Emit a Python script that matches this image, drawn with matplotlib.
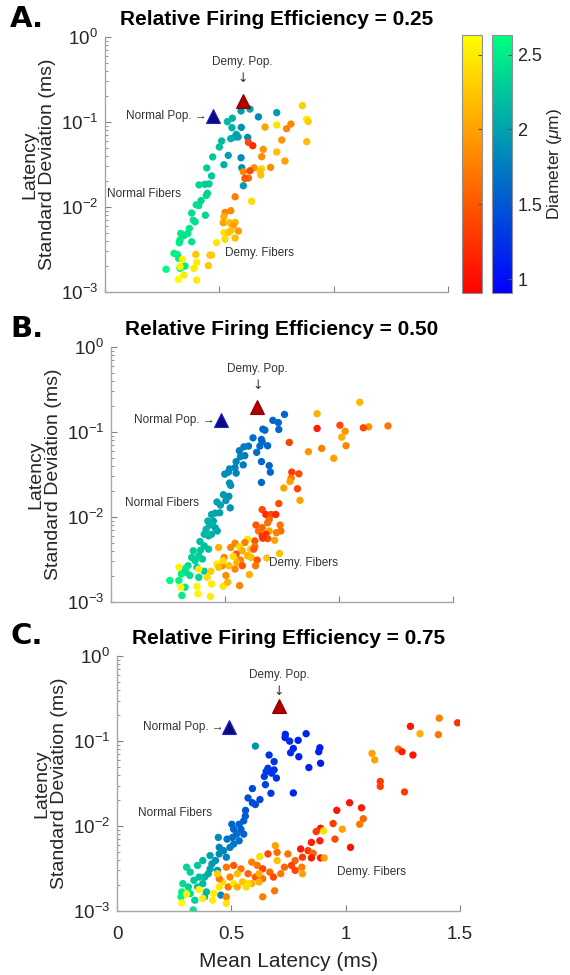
import numpy as np
import matplotlib
matplotlib.use('Agg')
import matplotlib.pyplot as plt
from matplotlib.colors import Normalize
from matplotlib.cm import ScalarMappable

plt.rcParams['font.family'] = ['Liberation Sans', 'DejaVu Sans']
plt.rcParams['mathtext.fontset'] = 'custom'
plt.rcParams['mathtext.rm'] = 'Liberation Sans'
plt.rcParams['mathtext.it'] = 'Liberation Sans:italic'
plt.rcParams['mathtext.bf'] = 'Liberation Sans:bold'

# =============================================================================
# data: mean latency (ms), latency SD (ms), diameter (um)
# =============================================================================
efficiency = ['0.25', '0.50', '0.75']
panel_tags = ['A.', 'B.', 'C.']

# population markers per panel (normal, demyelinated)
normal_pop_x = [0.471, 0.481, 0.489]
normal_pop_y = [0.118, 0.138, 0.145]
demy_pop_x = [0.602, 0.642, 0.709]
demy_pop_y = [0.177, 0.198, 0.257]

# ---- A. efficiency 0.25
a_norm_x = [0.595, 0.634, 0.671, 0.751, 0.557, 0.535, 0.596, 0.555, 0.574, 0.569, 0.582, 0.550,
            0.510, 0.624, 0.500, 0.539, 0.595, 0.471, 0.520, 0.598, 0.445, 0.466, 0.411, 0.437,
            0.455, 0.448, 0.443, 0.399, 0.410, 0.420, 0.439, 0.605, 0.379, 0.386, 0.394, 0.369,
            0.362, 0.331, 0.345, 0.328, 0.325, 0.379, 0.302, 0.316, 0.322, 0.328, 0.267, 0.350]
a_norm_y = [0.135, 0.142, 0.115, 0.129, 0.111, 0.101, 0.0865, 0.0858, 0.0716, 0.0667, 0.0667, 0.0637,
            0.0598, 0.066, 0.0508, 0.0405, 0.038, 0.0388, 0.0315, 0.029, 0.0288, 0.0232, 0.0182, 0.0185,
            0.0187, 0.0145, 0.0137, 0.0106, 0.0104, 0.0119, 0.0080, 0.0178, 0.0085, 0.0070, 0.0067, 0.0056,
            0.0049, 0.0049, 0.0046, 0.0041, 0.0038, 0.0039, 0.00285, 0.00277, 0.00249, 0.0019, 0.00185, 0.00202]
a_norm_d = [1.95, 2.05, 1.85, 1.95, 2.1, 2.15, 1.9, 2.1, 2.0, 1.95, 2.0, 2.1,
            2.15, 1.85, 2.2, 2.0, 1.85, 2.25, 2.1, 1.9, 2.3, 2.25, 2.35, 2.3,
            2.3, 2.35, 2.35, 2.4, 2.4, 2.35, 2.35, 1.95, 2.4, 2.45, 2.4, 2.45,
            2.45, 2.5, 2.45, 2.5, 2.5, 2.45, 2.5, 2.55, 2.5, 2.55, 2.6, 2.5]
a_demy_x = [0.863, 0.882, 0.889, 0.813, 0.794, 0.751, 0.700, 0.773, 0.882, 0.627, 0.646, 0.692,
            0.751, 0.685, 0.787, 0.724, 0.652, 0.685, 0.678, 0.605, 0.634, 0.627, 0.612, 0.681,
            0.569, 0.641, 0.525, 0.550, 0.520, 0.517, 0.544, 0.569, 0.561, 0.583, 0.520, 0.539,
            0.550, 0.525, 0.488, 0.569, 0.397, 0.459, 0.466, 0.338, 0.401, 0.389, 0.452, 0.328,
            0.345, 0.321, 0.401]
a_demy_y = [0.156, 0.108, 0.101, 0.0947, 0.0835, 0.0922, 0.0873, 0.0614, 0.0587, 0.0577, 0.0527, 0.0477,
            0.0444, 0.0391, 0.0348, 0.0293, 0.029, 0.0282, 0.0265, 0.026, 0.0267, 0.0219, 0.0217, 0.0238,
            0.0132, 0.0117, 0.00865, 0.00906, 0.00769, 0.00654, 0.00654, 0.0066, 0.00608, 0.00522, 0.00499, 0.00499,
            0.00527, 0.00417, 0.0038, 0.00432, 0.00277, 0.00272, 0.00272, 0.00242, 0.00223, 0.0019, 0.00204, 0.00199,
            0.00158, 0.00141, 0.00138]
a_demy_d = [2.3, 2.5, 2.3, 1.8, 1.8, 2.45, 2.0, 1.9, 2.2, 1.4, 1.2, 1.9,
            2.2, 1.85, 2.0, 1.85, 1.9, 2.4, 2.2, 1.8, 1.4, 1.6, 1.5, 2.2,
            1.75, 2.4, 1.8, 1.85, 2.1, 2.0, 2.2, 2.15, 1.95, 1.95, 2.45, 2.3,
            2.2, 2.4, 2.45, 2.2, 2.25, 2.25, 2.3, 2.55, 2.5, 2.5, 2.25, 2.55,
            2.5, 2.6, 2.5]

# ---- B. efficiency 0.50
b_norm_x = [0.761, 0.710, 0.734, 0.666, 0.675, 0.736, 0.623, 0.660, 0.663, 0.687, 0.653, 0.639,
            0.660, 0.694, 0.699, 0.660, 0.603, 0.583, 0.563, 0.587, 0.568, 0.549, 0.580, 0.544,
            0.520, 0.499, 0.515, 0.549, 0.520, 0.525, 0.493, 0.517, 0.504, 0.465, 0.480, 0.523,
            0.457, 0.477, 0.441, 0.449, 0.433, 0.457, 0.466, 0.417, 0.409, 0.428, 0.390, 0.409,
            0.428, 0.361, 0.385, 0.401, 0.369, 0.338, 0.322, 0.309, 0.346, 0.298, 0.258, 0.325,
            0.311, 0.377, 0.385, 0.409, 0.330, 0.354, 0.393, 0.441, 0.425]
b_norm_y = [0.161, 0.137, 0.129, 0.108, 0.105, 0.107, 0.0853, 0.0816, 0.0767, 0.0689, 0.0682, 0.0576,
            0.0448, 0.0402, 0.0337, 0.0255, 0.0682, 0.067, 0.0602, 0.0527, 0.0513, 0.0448, 0.041, 0.0381,
            0.0368, 0.0319, 0.0337, 0.0328, 0.0251, 0.0235, 0.0183, 0.0175, 0.0156, 0.015, 0.0138, 0.0128,
            0.0111, 0.0112, 0.0107, 0.00896, 0.00804, 0.00748, 0.00684, 0.00716, 0.00626, 0.00598, 0.00514, 0.00457,
            0.00418, 0.0040, 0.0035, 0.0032, 0.00306, 0.00267, 0.00244, 0.00214, 0.00205, 0.00179, 0.00179, 0.00149,
            0.00119, 0.00256, 0.00195, 0.0023, 0.00223, 0.00334, 0.00407, 0.00626, 0.00896]
b_norm_d = [1.6, 1.6, 1.6, 1.65, 1.6, 1.6, 1.65, 1.6, 1.6, 1.6, 1.65, 1.65,
            1.6, 1.6, 1.6, 1.6, 1.7, 1.75, 1.75, 1.75, 1.8, 1.8, 1.75, 1.8,
            1.85, 1.85, 1.85, 1.8, 1.9, 1.9, 1.95, 1.9, 1.95, 2.0, 2.0, 1.9,
            2.0, 2.0, 2.05, 2.05, 2.1, 2.05, 2.05, 2.15, 2.15, 2.15, 2.2, 2.2,
            2.2, 2.3, 2.3, 2.25, 2.3, 2.4, 2.45, 2.5, 2.4, 2.55, 2.6, 2.5,
            2.5, 2.3, 2.35, 2.3, 2.45, 2.3, 2.25, 2.1, 2.1]
b_demy_x = [1.091, 0.904, 1.215, 1.130, 1.107, 1.004, 1.027, 0.904, 1.012, 0.924, 1.031, 0.866,
            0.977, 0.782, 0.793, 0.824, 0.790, 0.785, 0.758, 0.818, 0.829, 0.736, 0.663, 0.679,
            0.702, 0.723, 0.694, 0.636, 0.687, 0.742, 0.663, 0.745, 0.726, 0.694, 0.679, 0.647,
            0.663, 0.718, 0.687, 0.666, 0.631, 0.599, 0.587, 0.544, 0.564, 0.525, 0.631, 0.612,
            0.576, 0.549, 0.599, 0.615, 0.641, 0.568, 0.536, 0.496, 0.488, 0.517, 0.544, 0.492,
            0.465, 0.504, 0.564, 0.607, 0.634, 0.739, 0.683, 0.438, 0.385, 0.422, 0.441, 0.377,
            0.382, 0.436, 0.492, 0.472, 0.512, 0.306, 0.298, 0.552, 0.576, 0.626, 0.472]
b_demy_y = [0.224, 0.164, 0.118, 0.115, 0.112, 0.12, 0.102, 0.11, 0.0869, 0.0641, 0.0689, 0.0586,
            0.049, 0.0753, 0.0337, 0.0322, 0.0286, 0.0262, 0.0219, 0.0215, 0.0157, 0.0144, 0.0122, 0.0107,
            0.0107, 0.0107, 0.00936, 0.00804, 0.00855, 0.00804, 0.00748, 0.00684, 0.00654, 0.00684, 0.00626, 0.00684,
            0.00598, 0.00532, 0.00557, 0.00562, 0.00523, 0.00547, 0.005, 0.00491, 0.00446, 0.00438, 0.0045, 0.00418,
            0.004, 0.00366, 0.0035, 0.00334, 0.00311, 0.00311, 0.00344, 0.00334, 0.00267, 0.00267, 0.00244, 0.00306,
            0.0028, 0.00205, 0.00156, 0.0021, 0.00267, 0.00372, 0.00329, 0.0023, 0.00244, 0.00195, 0.00163, 0.00152,
            0.00125, 0.00116, 0.00153, 0.00256, 0.00171, 0.00149, 0.00256, 0.00292, 0.00267, 0.00418, 0.00438]
b_demy_d = [2.15, 2.1, 1.7, 1.9, 1.4, 1.4, 1.9, 1.1, 2.1, 1.75, 1.8, 1.9,
            2.0, 1.35, 1.3, 1.4, 1.7, 2.0, 2.0, 1.4, 2.0, 1.4, 1.4, 1.2,
            1.4, 1.2, 1.6, 1.5, 1.65, 1.7, 1.6, 1.65, 1.75, 2.0, 1.25, 1.65,
            1.3, 2.0, 1.45, 1.25, 1.5, 2.45, 1.75, 1.8, 2.4, 1.8, 1.7, 2.3,
            2.1, 1.5, 2.1, 2.2, 1.5, 1.75, 2.4, 1.8, 1.8, 2.2, 1.8, 2.4,
            2.5, 1.85, 1.8, 2.1, 1.7, 2.2, 2.2, 2.3, 2.5, 2.4, 2.5, 2.55,
            2.55, 2.5, 2.45, 2.2, 2.15, 2.6, 2.55, 2.1, 1.5, 1.5, 2.1]

# ---- C. efficiency 0.75
c_norm_x = [0.827, 0.736, 0.735, 0.792, 0.755, 0.771, 0.759, 0.887, 0.882, 0.795, 0.890, 0.839,
            0.687, 0.665, 0.660, 0.687, 0.652, 0.697, 0.644, 0.676, 0.649, 0.673, 0.771, 0.592,
            0.573, 0.592, 0.605, 0.625, 0.562, 0.561, 0.554, 0.534, 0.502, 0.510, 0.542, 0.523,
            0.505, 0.554, 0.534, 0.481, 0.510, 0.494, 0.447, 0.466, 0.447, 0.478, 0.431, 0.415,
            0.407, 0.439, 0.399, 0.383, 0.375, 0.352, 0.336, 0.359, 0.320, 0.304, 0.288, 0.312,
            0.320, 0.340, 0.333, 0.283, 0.391, 0.443, 0.605, 0.383, 0.454, 0.352, 0.375, 0.407,
            0.280]
c_norm_y = [0.122, 0.120, 0.110, 0.102, 0.0997, 0.0819, 0.0729, 0.0834, 0.0749, 0.0655, 0.0548, 0.0488,
            0.0573, 0.0685, 0.0479, 0.0458, 0.0438, 0.0367, 0.0383, 0.0419, 0.0307, 0.0243, 0.0245, 0.0276,
            0.0214, 0.0188, 0.0179, 0.0205, 0.0153, 0.0131, 0.0115, 0.0105, 0.0105, 0.00918, 0.00918, 0.00803,
            0.00735, 0.00803, 0.00671, 0.00702, 0.00614, 0.00561, 0.00561, 0.00514, 0.0047, 0.0043, 0.00393, 0.00359,
            0.00314, 0.00301, 0.00275, 0.00251, 0.0021, 0.00192, 0.0023, 0.00251, 0.00287, 0.00328, 0.0021, 0.00192,
            0.00161, 0.00134, 0.00103, 0.00168, 0.00168, 0.00735, 0.0873, 0.00147, 0.00154, 0.00344, 0.00393, 0.00449,
            0.00147]
c_norm_d = [1.15, 1.15, 1.15, 1.15, 1.2, 1.15, 1.2, 1.1, 1.15, 1.15, 1.1, 1.15,
            1.25, 1.25, 1.3, 1.25, 1.3, 1.25, 1.3, 1.25, 1.35, 1.3, 1.15, 1.4,
            1.45, 1.4, 1.45, 1.4, 1.5, 1.5, 1.55, 1.55, 1.6, 1.6, 1.55, 1.65,
            1.65, 1.6, 1.65, 1.7, 1.7, 1.75, 1.8, 1.8, 1.85, 1.8, 1.9, 1.95,
            2.0, 1.95, 2.05, 2.1, 2.15, 2.2, 2.25, 2.2, 2.3, 2.35, 2.4, 2.35,
            2.4, 2.35, 2.45, 2.55, 2.15, 1.85, 1.9, 2.1, 1.85, 2.25, 2.15, 2.0,
            2.55]
c_demy_x = [1.489, 1.409, 1.405, 1.325, 1.283, 1.230, 1.246, 1.294, 1.115, 1.127, 1.151, 1.151,
            1.257, 1.017, 1.069, 0.961, 1.077, 1.061, 0.985, 0.945, 0.890, 0.871, 0.903, 0.887,
            0.850, 0.803, 0.835, 0.858, 0.890, 0.906, 0.850, 0.953, 1.021, 0.811, 0.779, 0.747,
            0.700, 0.660, 0.692, 0.624, 0.589, 0.613, 0.637, 0.668, 0.700, 0.732, 0.763, 0.808,
            0.811, 0.779, 0.716, 0.684, 0.637, 0.605, 0.573, 0.549, 0.589, 0.565, 0.542, 0.510,
            0.478, 0.526, 0.494, 0.462, 0.486, 0.510, 0.526, 0.447, 0.423, 0.418, 0.478, 0.478,
            0.637, 0.689, 0.573, 0.621, 0.283, 0.359, 0.304, 0.375, 0.621, 0.447, 0.439]
c_demy_y = [0.164, 0.186, 0.119, 0.122, 0.149, 0.0805, 0.0749, 0.0685, 0.0716, 0.06, 0.0335, 0.0293,
            0.0252, 0.0188, 0.0164, 0.0153, 0.0122, 0.0105, 0.00918, 0.0107, 0.00942, 0.00862, 0.00877, 0.00671,
            0.00642, 0.00537, 0.00514, 0.00478, 0.00422, 0.00422, 0.00422, 0.00702, 0.00561, 0.0043, 0.00393, 0.0047,
            0.00491, 0.0047, 0.00587, 0.00437, 0.00376, 0.00344, 0.00314, 0.00287, 0.00393, 0.00328, 0.00344, 0.00328,
            0.00275, 0.00301, 0.00275, 0.00251, 0.0024, 0.00251, 0.00275, 0.0022, 0.0021, 0.00192, 0.00314, 0.00344,
            0.00328, 0.00275, 0.00251, 0.0022, 0.00192, 0.0021, 0.00192, 0.00192, 0.00161, 0.00134, 0.00147, 0.00123,
            0.00147, 0.00173, 0.0021, 0.0022, 0.00125, 0.00179, 0.00158, 0.00141, 0.00275, 0.0024, 0.00275]
c_demy_d = [1.25, 1.75, 1.7, 2.1, 1.05, 1.6, 1.1, 1.05, 2.0, 2.0, 1.3, 1.35,
            1.3, 1.05, 1.1, 1.05, 1.6, 1.7, 2.0, 1.3, 1.05, 1.3, 2.4, 1.1,
            1.1, 1.05, 1.3, 1.6, 1.1, 2.0, 1.1, 1.4, 1.05, 1.3, 1.6, 1.7,
            1.65, 1.4, 2.0, 2.4, 1.75, 1.7, 1.4, 1.6, 2.2, 1.6, 1.35, 1.75,
            2.0, 1.4, 1.7, 1.4, 1.7, 1.5, 1.6, 2.2, 2.1, 2.4, 1.7, 1.5,
            1.7, 2.2, 1.8, 2.4, 1.7, 2.45, 2.1, 2.45, 2.5, 2.5, 1.8, 2.45,
            1.75, 1.7, 2.4, 2.1, 2.6, 2.55, 2.55, 2.5, 2.1, 1.75, 2.3]

normal_sets = [(a_norm_x, a_norm_y, a_norm_d), (b_norm_x, b_norm_y, b_norm_d), (c_norm_x, c_norm_y, c_norm_d)]
demy_sets = [(a_demy_x, a_demy_y, a_demy_d), (b_demy_x, b_demy_y, b_demy_d), (c_demy_x, c_demy_y, c_demy_d)]

# label anchors (data coords): demy pop text, normal fibers, demy fibers
demy_pop_lbl = [(0.60, 0.51), (0.642, 0.55), (0.708, 0.60)]
normal_fib_lbl = [(0.01, 0.0142), (0.061, 0.0148), (0.09, 0.0144)]
demy_fib_lbl = [(0.525, 0.00285), (0.694, 0.00287), (0.961, 0.00287)]

d_min, d_max = 0.91, 2.63
norm = Normalize(vmin=d_min, vmax=d_max)

# =============================================================================
# Plotting
# =============================================================================
fig = plt.figure(figsize=(5.7, 9.75), dpi=100)

ax_rects = [[0.1842, 0.7005, 0.6018, 0.2615],
            [0.1947, 0.3826, 0.6000, 0.2615],
            [0.2053, 0.0656, 0.6018, 0.2615]]
tag_y = [0.981, 0.663, 0.348]

spine_col = '#a6a6a6'
txt_col = '#262626'
ann_col = '#333333'

for i in range(3):
    ax = fig.add_axes(ax_rects[i])
    nx, ny, nd = normal_sets[i]
    dx, dy, dd = demy_sets[i]
    ax.scatter(nx, ny, c=nd, cmap='winter', norm=norm, s=28, linewidths=0, zorder=2)
    ax.scatter(dx, dy, c=dd, cmap='autumn', norm=norm, s=28, linewidths=0, zorder=3)
    ax.plot(normal_pop_x[i], normal_pop_y[i], '^', ms=9.5, mfc='#0a0a80', mec='#2020d0', mew=0.8, zorder=4)
    ax.plot(demy_pop_x[i], demy_pop_y[i], '^', ms=9.5, mfc='#b00000', mec='#8a0000', mew=0.8, zorder=4)

    ax.set_yscale('log')
    ax.set_xlim(0, 1.5)
    ax.set_ylim(1e-3, 1e0)
    ax.set_xticks([0, 0.5, 1, 1.5])
    ax.set_yticks([1e-3, 1e-2, 1e-1, 1e0])
    for side in ['top', 'right']:
        ax.spines[side].set_visible(False)
    for side in ['left', 'bottom']:
        ax.spines[side].set_color(spine_col)
        ax.spines[side].set_linewidth(1.0)
    ax.tick_params(which='both', direction='in', color='#808080', labelcolor=txt_col, labelsize=13.5)
    ax.tick_params(which='major', length=4)
    ax.tick_params(which='minor', length=2)
    ax.tick_params(axis='y', pad=5)
    ax.tick_params(axis='x', pad=11)
    if i < 2:
        ax.set_xticklabels([])
    else:
        ax.set_xticklabels(['0', '0.5', '1', '1.5'])
        ax.set_xlabel('Mean Latency (ms)', fontsize=15, color=txt_col, labelpad=6)
    ax.set_ylabel('Latency\nStandard Deviation (ms)', fontsize=14, color=txt_col, labelpad=3,
                  linespacing=1.08)

    ax.set_title('Relative Firing Efficiency = ' + efficiency[i], fontsize=15,
                 fontweight='bold', pad=9)
    fig.text(0.018, tag_y[i], panel_tags[i], fontsize=21, fontweight='bold',
             family='DejaVu Sans', va='center', ha='left')

    # annotations
    ax.text(demy_pop_lbl[i][0], demy_pop_lbl[i][1], 'Demy. Pop.', fontsize=8.5,
            color=ann_col, ha='center', va='center')
    ax.text(demy_pop_x[i], demy_pop_lbl[i][1] * 0.64, '\u2193', fontsize=9, color=ann_col,
            ha='center', va='center', family=['DejaVu Sans'])
    ax.text(normal_pop_x[i] - 0.025, normal_pop_y[i], 'Normal Pop. \u2192', fontsize=8.5,
            color=ann_col, ha='right', va='center', family=['Liberation Sans', 'DejaVu Sans'])
    ax.text(normal_fib_lbl[i][0], normal_fib_lbl[i][1], 'Normal Fibers', fontsize=8.5,
            color=ann_col, ha='left', va='center')
    ax.text(demy_fib_lbl[i][0], demy_fib_lbl[i][1], 'Demy. Fibers', fontsize=8.5,
            color=ann_col, ha='left', va='center')

# colorbars next to panel A
cbar_ticks = [1, 1.5, 2, 2.5]
cax1 = fig.add_axes([0.8105, 0.6995, 0.0351, 0.2646])
cb1 = fig.colorbar(ScalarMappable(norm=norm, cmap='autumn'), cax=cax1, ticks=cbar_ticks)
cb1.ax.set_yticklabels([])
cax2 = fig.add_axes([0.8632, 0.6995, 0.0351, 0.2646])
cb2 = fig.colorbar(ScalarMappable(norm=norm, cmap='winter'), cax=cax2, ticks=cbar_ticks)
cb2.ax.set_yticklabels(['1', '1.5', '2', '2.5'])
for cb in [cb1, cb2]:
    cb.outline.set_edgecolor('#909090')
    cb.outline.set_linewidth(0.8)
    cb.ax.tick_params(direction='in', length=3, color='#555555', labelsize=13,
                      labelcolor=txt_col, pad=4)
cb2.set_label('Diameter ($\\mu$m)', fontsize=12.5, color=txt_col, labelpad=2)

fig.savefig('out.png', dpi=100)
